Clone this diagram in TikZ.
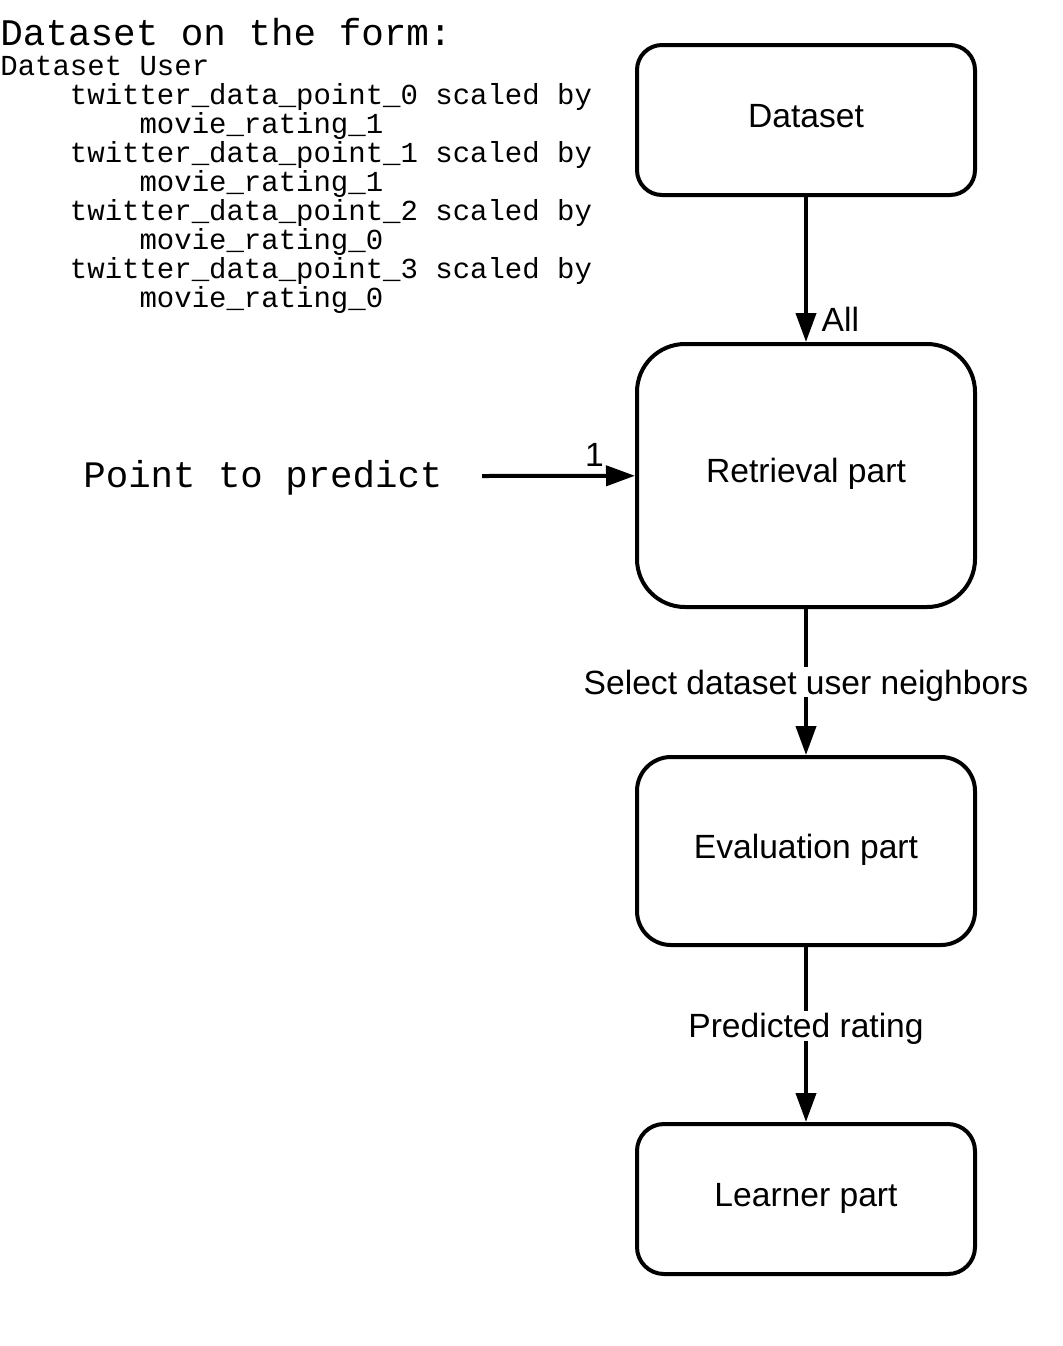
\documentclass[tikz,border=0pt]{standalone}
\usepackage{fontspec}
\setmainfont{Liberation Sans}
\setmonofont{Liberation Mono}
\usetikzlibrary{arrows.meta}
\begin{document}
\begin{tikzpicture}[x=0.5pt,y=-0.5pt,
		box/.style={draw, line width=2pt, minimum width=169pt, text height=12.1pt, text depth=5pt, font=\fontsize{16.8}{19}\selectfont},
		flow/.style={line width=2pt, -{Triangle[length=14.5pt,width=10pt]}},
		lbl/.style={fill=white, inner sep=1.5pt, text height=12.1pt, text depth=0pt, font=\fontsize{16.8}{19}\selectfont}]
		    	\useasboundingbox (0,0) rectangle (1063,1346);
		    	
		    	\node[anchor=north west, align=left, inner sep=0pt, font=\ttfamily\fontsize{14.5}{14.5}\selectfont] (DF) at (0,18)
		    	{{\fontsize{18.8}{15}\selectfont Dataset on the form:}\\[0.5pt]
		    	Dataset User\\
		    	\hspace*{2.4em}twitter\_data\_point\_0 scaled by\\
		    	\hspace*{4.8em}movie\_rating\_1\\
		    	\hspace*{2.4em}twitter\_data\_point\_1 scaled by\\
		    	\hspace*{4.8em}movie\_rating\_1\\
		    	\hspace*{2.4em}twitter\_data\_point\_2 scaled by\\
		    	\hspace*{4.8em}movie\_rating\_0\\
		    	\hspace*{2.4em}twitter\_data\_point\_3 scaled by\\
		    	\hspace*{4.8em}movie\_rating\_0};
		    	\node[anchor=base west, inner sep=0pt, font=\ttfamily\fontsize{18.7}{22}\selectfont] (PP) at (83,487) {Point to predict};
		    	\coordinate (PS) at (482,476);
		    	
		    	\node[box, minimum height=75pt, rounded corners=12.5pt] (DS) at (806,120) {Dataset};
		    	\node[box, minimum height=131.5pt, rounded corners=24pt] (RP) at (806,475.5) {Retrieval part};
		    	\node[box, minimum height=94pt, rounded corners=17pt] (EP) at (806,851) {Evaluation part};
		    	\node[box, minimum height=75pt, rounded corners=13.5pt] (LP) at (806,1199) {Learner part};
		    	
		    	\draw[flow] (DS)--(RP) node[pos=1, anchor=base west, xshift=3.5pt, yshift=5.5pt, font=\fontsize{16.8}{19}\selectfont] {All};
		    	\draw[flow] (PS)--(RP) node[pos=0.735, anchor=base, yshift=4.5pt, font=\fontsize{16.8}{19}\selectfont] {1};
		    	\draw[flow] (RP)--(EP) node[lbl, pos=0.5] {Select dataset user neighbors};
		    	\draw[flow] (EP)--(LP) node[lbl, pos=0.45] {Predicted rating};
		    \end{tikzpicture}
\end{document}
